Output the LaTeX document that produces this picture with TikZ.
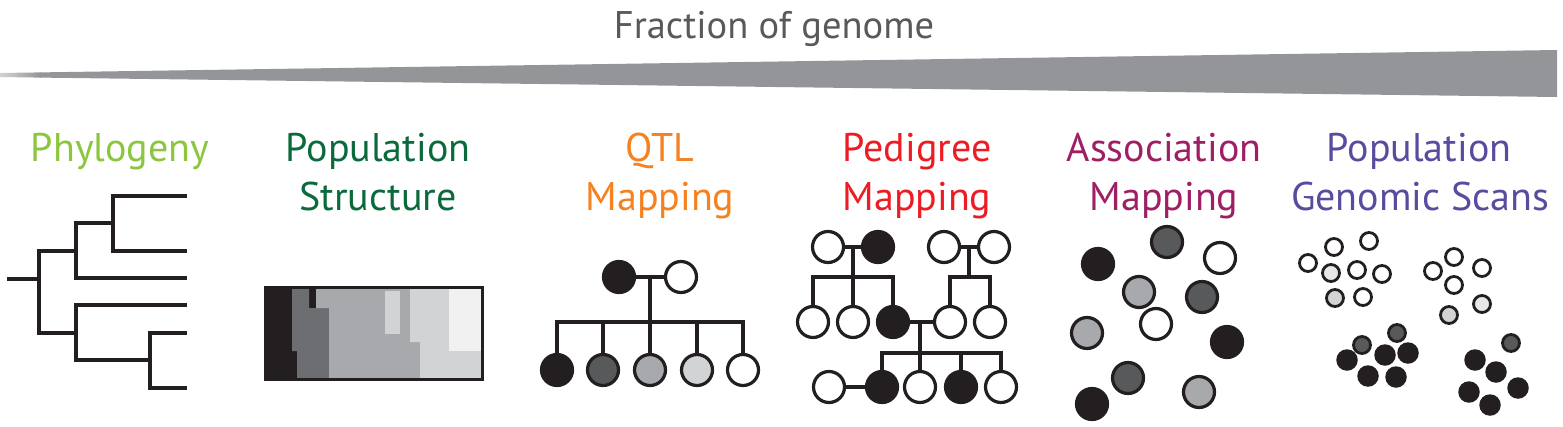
\documentclass[tikz,border=0pt]{standalone}
\usepackage{fontspec}
\setmainfont{PT Sans}
\definecolor{blk}{HTML}{231F20}
\definecolor{wedgegray}{HTML}{939598}
\definecolor{titlegray}{HTML}{58595B}
\definecolor{dg}{HTML}{58595B}
\definecolor{sdg}{HTML}{6D6E71}
\definecolor{mg}{HTML}{A7A9AC}
\definecolor{lg}{HTML}{D1D3D4}
\definecolor{vlg}{HTML}{E6E7E8}
\definecolor{xlg}{HTML}{F1F1F2}
\definecolor{cphy}{HTML}{8CC63F}
\definecolor{cpop}{HTML}{0B6A3C}
\definecolor{cqtl}{HTML}{F58220}
\definecolor{cped}{HTML}{ED1C24}
\definecolor{cass}{HTML}{9E1F63}
\definecolor{cpgs}{HTML}{5B4B9E}
\tikzset{
  ln/.style={draw=blk, line width=3.3pt, line join=miter},
  ind/.style={circle, draw=blk, line width=3.2pt, minimum size=31pt, inner sep=0pt, fill=white},
  aff/.style={ind, fill=blk},
  sm/.style={circle, draw=blk, line width=2.8pt, minimum size=17pt, inner sep=0pt, fill=white},
  smf/.style={circle, fill=blk, minimum size=21.5pt, inner sep=0pt},
  lab/.style={anchor=base, inner sep=0pt, font=\fontsize{40}{49}\selectfont},
}
\begin{document}
\begin{tikzpicture}[x=1pt, y=-1pt]
\useasboundingbox (0,0) rectangle (1563,426);
% wedge and title
\fill[wedgegray] (40,72.4) -- (1557,50) -- (1557,97) -- (40,77.6) -- cycle;
\shade[left color=lg, right color=wedgegray] (0,73) -- (40.5,72.4) -- (40.5,77.6) -- (0,77) -- cycle;
\node[anchor=base, inner sep=0pt, text=titlegray, font=\fontsize{38.5}{44}\selectfont] (title) at (774,38) {Fraction of genome};
% labels
\node[lab, text=cphy] (l1) at (120,161) {Phylogeny};
\node[lab, text=cpop] (l2a) at (378,161) {Population};
\node[lab, text=cpop] (l2b) at (378,210) {Structure};
\node[lab, text=cqtl] (l3a) at (660,161) {QTL};
\node[lab, text=cqtl] (l3b) at (660,210) {Mapping};
\node[lab, text=cped] (l4a) at (917,161) {Pedigree};
\node[lab, text=cped] (l4b) at (917,210) {Mapping};
\node[lab, text=cass] (l5a) at (1164,161) {Association};
\node[lab, text=cass] (l5b) at (1164,210) {Mapping};
\node[lab, text=cpgs] (l6a) at (1419,161) {Population};
\node[lab, text=cpgs] (l6b) at (1420,210) {Genomic Scans};
% phylogeny
\draw[ln] (187,196) -| (113,251) -- (187,251);
\draw[ln] (113,223) -| (76,278) -- (187,278);
\draw[ln] (76,251) -| (39,333) -- (76,333);
\draw[ln] (187,305) -| (76,360) -- (150,360);
\draw[ln] (187,333) -| (150,388) -- (187,388);
\draw[ln] (7,279) -- (39,279);
% population structure
\fill[blk] (264,286) rectangle (484,381);
\fill[sdg] (292,289) -- (309,289) -- (309,308) -- (329,308) -- (329,378) -- (297,378) -- (297,351) -- (292,351) -- cycle;
\fill[mg] (316,289) -- (410,289) -- (410,342) -- (420,342) -- (420,378) -- (329,378) -- (329,308) -- (316,308) -- cycle;
\fill[lg] (385,291) rectangle (400,334);
\fill[lg] (410,289) -- (481,289) -- (481,378) -- (420,378) -- (420,342) -- (410,342) -- cycle;
\fill[xlg] (449,289) rectangle (481,351);
\draw[draw=blk, line width=3.3pt] (265.6,287.4) rectangle (482.6,379.6);
% QTL pedigree
\node[aff] (q1) at (619,277) {};
\node[ind] (q2) at (681,277) {};
\coordinate (qm) at (650,277);
\coordinate (qs) at (650,322);
\node[aff] (qc1) at (557,370) {};
\node[ind, fill=dg] (qc2) at (603,370) {};
\node[ind, fill=mg] (qc3) at (650,370) {};
\node[ind, fill=lg] (qc4) at (697,370) {};
\node[ind] (qc5) at (743,370) {};
\draw[ln] (q1) -- (q2);
\draw[ln] (qm) -- (qs);
\draw[ln] (qc1) -- (qc1 |- qs) -- (qc5 |- qs) -- (qc5);
\draw[ln] (qc2) -- (qc2 |- qs);
\draw[ln] (qc3) -- (qc3 |- qs);
\draw[ln] (qc4) -- (qc4 |- qs);
% pedigree mapping
\node[ind] (a1) at (828,247) {};
\node[aff] (a2) at (878,247) {};
\node[ind] (a3) at (944,247) {};
\node[ind] (a4) at (994,247) {};
\coordinate (am1) at (853,247);
\coordinate (as1) at (853,277);
\coordinate (am2) at (969,247);
\coordinate (as2) at (969,277);
\node[ind] (b1) at (813,322) {};
\node[ind] (b2) at (853,322) {};
\node[aff] (b3) at (893,322) {};
\node[ind] (b4) at (950,322) {};
\node[ind] (b5) at (990,322) {};
\coordinate (bm) at (920,322);
\coordinate (bs) at (920,353);
\node[ind] (d1) at (829,387) {};
\node[aff] (d2) at (882,387) {};
\node[ind] (d3) at (920,387) {};
\node[aff] (d4) at (961,387) {};
\node[ind] (d5) at (1001,387) {};
\draw[ln] (a1) -- (a2);
\draw[ln] (a3) -- (a4);
\draw[ln] (am1) -- (as1);
\draw[ln] (am2) -- (as2);
\draw[ln] (b1) -- (b1 |- as1) -- (b3 |- as1) -- (b3);
\draw[ln] (b2) -- (b2 |- as1);
\draw[ln] (b4) -- (b4 |- as2) -- (b5 |- as2) -- (b5);
\draw[ln] (b3) -- (b4);
\draw[ln] (bm) -- (bs);
\draw[ln] (d2) -- (d2 |- bs) -- (d5 |- bs) -- (d5);
\draw[ln] (d3) -- (d3 |- bs);
\draw[ln] (d4) -- (d4 |- bs);
\draw[ln] (d1) -- (d2);
% association mapping
\node[aff] (s1) at (1098,264) {};
\node[ind, fill=dg] (s2) at (1167,242) {};
\node[ind] (s3) at (1220,258) {};
\node[ind, fill=mg] (s4) at (1139,292) {};
\node[ind, fill=dg] (s5) at (1202,297) {};
\node[ind] (s6) at (1156,324) {};
\node[ind, fill=mg] (s7) at (1087,333) {};
\node[aff] (s8) at (1227,342) {};
\node[ind, fill=dg] (s9) at (1128,378) {};
\node[ind, fill=mg] (s10) at (1199,392) {};
\node[aff] (s11) at (1092,404) {};
% population genomic scans
\node[sm] (g1) at (1334,247) {};
\node[sm] (g2) at (1369,241) {};
\node[sm] (g3) at (1308,263) {};
\node[sm, fill=vlg] (g4) at (1331,273) {};
\node[sm] (g5) at (1357,270) {};
\node[sm] (g6) at (1382,274) {};
\node[sm, fill=lg] (g7) at (1335,298) {};
\node[sm] (g8) at (1363,297) {};
\node[sm] (h1) at (1454,257) {};
\node[sm] (h2) at (1433,271) {};
\node[sm] (h3) at (1482,268) {};
\node[sm] (h4) at (1454,285) {};
\node[sm, fill=vlg] (h5) at (1482,304) {};
\node[sm, fill=lg] (h6) at (1449,315) {};
\node[sm, fill=dg] (k1) at (1397,333) {};
\node[sm, fill=dg] (k2) at (1362,345) {};
\node[smf] (k3) at (1347,360) {};
\node[smf] (k4) at (1385,355) {};
\node[smf] (k5) at (1408,353) {};
\node[smf] (k6) at (1368,376) {};
\node[smf] (k7) at (1396,377) {};
\node[sm, fill=dg] (m1) at (1511,343) {};
\node[smf] (m2) at (1475,360) {};
\node[smf] (m3) at (1496,372) {};
\node[smf] (m4) at (1469,392) {};
\node[smf] (m5) at (1518,388) {};
\node[smf] (m6) at (1490,405) {};
\end{tikzpicture}
\end{document}
